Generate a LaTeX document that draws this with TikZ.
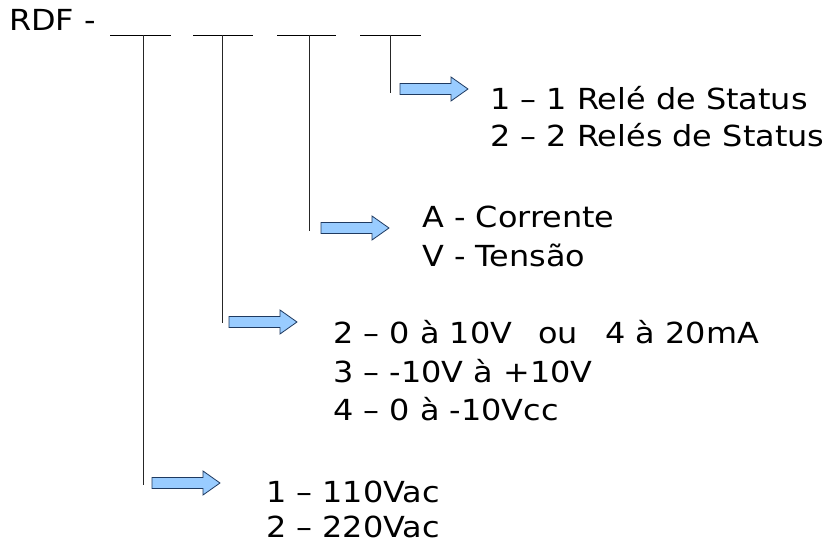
\documentclass[tikz,border=0pt]{standalone}
\usepackage{fontspec}
\setmainfont{DejaVu Sans}[FakeStretch=1.1]
\definecolor{arrowfill}{HTML}{99CCFF}
\definecolor{arrowline}{HTML}{1F3A60}
\tikzset{
  txt/.style={anchor=base west, inner sep=0pt, font=\fontsize{29}{35}\selectfont},
  slot/.style={line width=0.9pt, black},
  lead/.style={line width=0.9pt, black!85},
  pics/blockarrow/.style={code={
    \draw[fill=arrowfill, draw=arrowline, line width=0.8pt, line join=miter]
      (0,-5.5) -- (51,-5.5) -- (51,-12) -- (68,0) -- (51,12) -- (51,5.5) -- (0,5.5) -- cycle;}}
}
\begin{document}
\begin{tikzpicture}[x=1pt,y=1pt]
\useasboundingbox (0,0) rectangle (840,544);
% header
\node[txt] (rdf) at (9,513) {RDF -};
% underline slots
\coordinate (s1a) at (110,509); \coordinate (s1b) at (171,509);
\coordinate (s2a) at (193,509); \coordinate (s2b) at (253,509);
\coordinate (s3a) at (277,509); \coordinate (s3b) at (336,509);
\coordinate (s4a) at (360,509); \coordinate (s4b) at (421,509);
\draw[slot] (s1a) -- (s1b);
\draw[slot] (s2a) -- (s2b);
\draw[slot] (s3a) -- (s3b);
\draw[slot] (s4a) -- (s4b);
% leader tops and bottoms
\coordinate (t1) at (143,509); \coordinate (b1) at (143,59);
\coordinate (t2) at (222,509); \coordinate (b2) at (222,221);
\coordinate (t3) at (309,509); \coordinate (b3) at (309,313);
\coordinate (t4) at (390,509); \coordinate (b4) at (390,451);
\draw[lead] (t1) -- (b1);
\draw[lead] (t2) -- (b2);
\draw[lead] (t3) -- (b3);
\draw[lead] (t4) -- (b4);
% block arrows
\pic at (152,61) {blockarrow};
\pic at (229,222) {blockarrow};
\pic at (321,316) {blockarrow};
\pic at (400,455) {blockarrow};
% group 4
\node[txt] (g4a) at (490,434) {1 – 1 Relé de Status};
\node[txt] (g4b) at (490,397) {2 – 2 Relés de Status};
% group 3
\node[txt] (g3a) at (422,316) {A - Corrente};
\node[txt] (g3b) at (422,277) {V - Tensão};
% group 2
\node[txt] (g2a) at (333,201) {2 – 0 à 10V\hspace{26pt}ou\hspace{27.5pt}4 à 20mA};
\node[txt] (g2b) at (333,162) {3 – -10V à +10V};
\node[txt] (g2c) at (333,124) {4 – 0 à -10Vcc};
% group 1
\node[txt] (g1a) at (266,42) {1 – 110Vac};
\node[txt] (g1b) at (266,7) {2 – 220Vac};
\end{tikzpicture}
\end{document}
